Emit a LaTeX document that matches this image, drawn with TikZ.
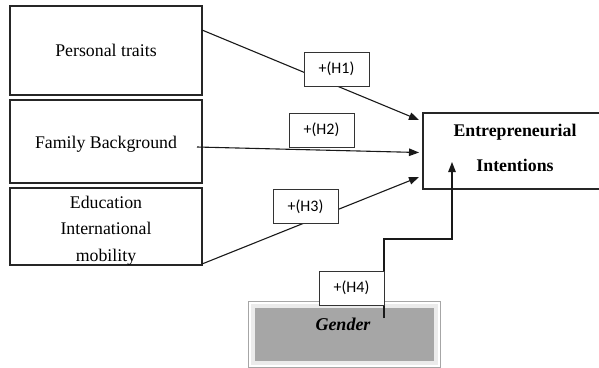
\documentclass[tikz,border=0pt]{standalone}
\usepackage{fontspec}
\setmainfont{Liberation Serif}
\newfontfamily\lblfont{Carlito}
\usetikzlibrary{arrows.meta,calc}
\begin{document}
\begin{tikzpicture}[x=1pt,y=-1pt,
  box/.style={draw=black!85, line width=1.1pt, inner sep=0pt},
  boxtext/.style={align=center, inner sep=0pt, font=\fontsize{17.8}{26.5}\selectfont},
  hyp/.style={draw=black!80, fill=white, line width=0.9pt, minimum width=65pt, minimum height=34pt, inner sep=0pt, font=\lblfont\fontsize{16}{18}\selectfont},
  conn/.style={line width=1.1pt, draw=black!90, -{Triangle[length=10pt,width=7.5pt]}}]
\path[use as bounding box] (0,0) rectangle (599,367);
\clip (0,0) rectangle (599,367);
% left boxes
\node[box, minimum width=192pt, minimum height=89pt,
  label={[boxtext]center:Personal traits}] (pt) at (106,50.5) {};
\node[box, minimum width=192pt, minimum height=83pt,
  label={[boxtext, yshift=-2.5pt]center:Family Background}] (fb) at (106,141.5) {};
\node[box, minimum width=192pt, minimum height=77pt,
  label={[boxtext, yshift=-4pt]center:Education\\International\\mobility}] (ed) at (106,226.5) {};
% target box
\node[box, minimum width=184pt, minimum height=76pt,
  label={[boxtext, font=\bfseries\fontsize{17.8}{35}\selectfont, yshift=3pt]center:Entrepreneurial\\Intentions}] (ei) at (515,151) {};
% gender box
\node[fill=black!35, draw=black!8, line width=4pt, minimum width=183pt, minimum height=57pt, inner sep=0pt] (gd) at (344,334.5) {};
\draw[black!35, line width=0.5pt] ([shift={(-2.3,-2.3)}]gd.north west) rectangle ([shift={(2.3,2.3)}]gd.south east);
\node[font=\bfseries\itshape\fontsize{18}{20}\selectfont] (gt) at (343,324) {Gender};
% connector end points
\coordinate (s1) at (202,30);
\coordinate (s2) at (197,147);
\coordinate (s3) at (202,264);
\coordinate (t1) at (419,120);
\coordinate (t2) at (419,152.5);
\coordinate (t3) at (419,177);
\coordinate (g4) at (384,318);
\coordinate (k4) at (452,239);
\coordinate (t4) at (452,162);
% connectors
\draw[conn] (s1) -- (t1);
\draw[conn] (s2) -- (t2);
\draw[conn] (s3) -- (t3);
\draw[conn] (g4) |- (k4) -- (t4);
% hypothesis labels
\node[hyp] (h1) at (336.5,69) {+(H1)};
\node[hyp] (h2) at (321.5,130) {+(H2)};
\node[hyp] (h3) at (305.5,206.5) {+(H3)};
\node[hyp] (h4) at (351.5,288) {+(H4)};
\end{tikzpicture}
\end{document}
